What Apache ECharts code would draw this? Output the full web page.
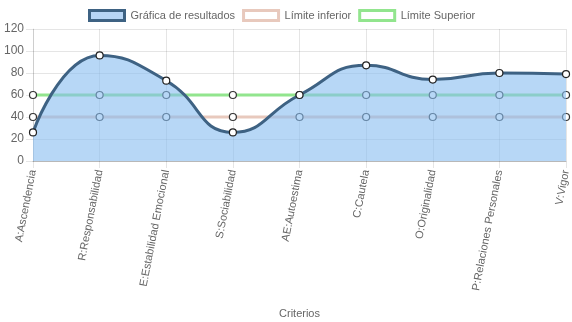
<!DOCTYPE html>
<html>
<head>
<meta charset="utf-8">
<script src="https://cdn.jsdelivr.net/npm/echarts@6/dist/echarts.min.js"></script>
<style>
  html, body { margin: 0; padding: 0; background: #fff; }
  #chart { width: 572px; height: 322px; }
</style>
</head>
<body>
<div id="chart"></div>
<script>
// Personality factor profile against lower / upper reference limits
const categories = [
  'A:Ascendencia', 'R:Responsabilidad', 'E:Estabilidad Emocional', 'S:Sociabilidad',
  'AE:Autoestima', 'C:Cautela', 'O:Originalidad', 'P:Relaciones Personales', 'V:Vigor'
];
const resultados = [26, 96, 73, 26, 60, 87, 74, 80, 79];
const limiteInferior = [40, 40, 40, 40, 40, 40, 40, 40, 40];
const limiteSuperior = [60, 60, 60, 60, 60, 60, 60, 60, 60];
const yTicks = { min: 0, max: 120, step: 20 };
const seriesNames = ['Gráfica de resultados', 'Límite inferior', 'Límite Superior'];

const FONT = '"Liberation Sans", Arial, Helvetica, sans-serif';
const TEXT = '#666';
const GRID = 'rgba(0,0,0,0.1)';

const blueLine = '#3e6283';
const blueFill = 'rgba(135,188,240,0.6)';
const pinkLine = '#e8c9bd';
const greenLine = '#92e58e';

const chart = echarts.init(document.getElementById('chart'), null, { renderer: 'canvas' });

chart.setOption({
  animation: false,
  textStyle: { fontFamily: FONT },
  legend: {
    top: 4,
    left: 83,
    itemWidth: 35,
    itemHeight: 10,
    itemGap: 7,
    textStyle: { color: TEXT, fontSize: 11, fontFamily: FONT, padding: [0, 0, 0, 1] },
    data: [
      { name: seriesNames[0], icon: 'rect', itemStyle: { color: 'rgb(183,213,245)', borderColor: blueLine, borderWidth: 3 } },
      { name: seriesNames[1], icon: 'rect', itemStyle: { color: '#fff', borderColor: pinkLine, borderWidth: 3 } },
      { name: seriesNames[2], icon: 'rect', itemStyle: { color: '#fff', borderColor: greenLine, borderWidth: 3 } }
    ]
  },
  grid: { left: 33, right: 3, top: 29, bottom: 161, containLabel: false },
  xAxis: {
    type: 'category',
    boundaryGap: false,
    data: categories,
    name: 'Criterios',
    nameLocation: 'middle',
    nameGap: 147,
    nameTextStyle: { color: TEXT, fontSize: 11, fontFamily: FONT },
    axisLine: { show: true, lineStyle: { color: 'rgba(0,0,0,0.2)', width: 1 } },
    axisTick: { show: true, length: 7, alignWithLabel: true, lineStyle: { color: GRID } },
    splitLine: { show: true, lineStyle: { color: GRID, width: 1 } },
    axisLabel: { color: TEXT, fontSize: 11, fontFamily: FONT, rotate: 79, margin: 9, interval: 0 }
  },
  yAxis: {
    type: 'value',
    min: yTicks.min,
    max: yTicks.max,
    interval: yTicks.step,
    axisLine: { show: true, lineStyle: { color: GRID, width: 1 } },
    axisTick: { show: true, length: 7, lineStyle: { color: GRID } },
    splitLine: { show: true, lineStyle: { color: GRID, width: 1 } },
    axisLabel: { color: TEXT, fontSize: 12, fontFamily: FONT, margin: 9 }
  },
  series: [
    {
      name: seriesNames[2],
      type: 'line',
      data: limiteSuperior,
      z: 2,
      symbol: 'circle',
      symbolSize: 7,
      lineStyle: { color: greenLine, width: 3 },
      itemStyle: { color: '#fff', borderColor: '#333', borderWidth: 1.2 }
    },
    {
      name: seriesNames[1],
      type: 'line',
      data: limiteInferior,
      z: 2,
      symbol: 'circle',
      symbolSize: 7,
      lineStyle: { color: pinkLine, width: 3 },
      itemStyle: { color: '#fff', borderColor: '#333', borderWidth: 1.2 }
    },
    {
      name: seriesNames[0],
      type: 'line',
      data: resultados,
      z: 3,
      smooth: 0.5,
      symbol: 'circle',
      symbolSize: 7,
      lineStyle: { color: blueLine, width: 3 },
      areaStyle: { color: blueFill, opacity: 1, origin: 'start' },
      itemStyle: { color: '#fff', borderColor: '#222', borderWidth: 1.2 }
    }
  ]
});
</script>
</body>
</html>
